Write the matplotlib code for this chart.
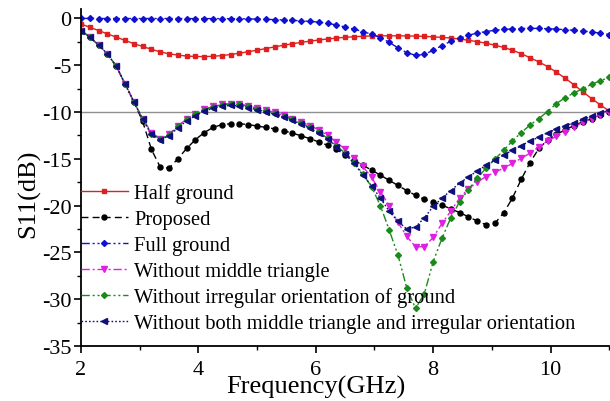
import numpy as np
import matplotlib
matplotlib.use("Agg")
import matplotlib.pyplot as plt

plt.rcParams['font.family'] = ['Liberation Serif', 'DejaVu Serif']
plt.rcParams['axes.unicode_minus'] = False

freq = [2.00, 2.15, 2.30, 2.45, 2.60, 2.75, 2.90, 3.05, 3.20, 3.35, 3.50, 3.65, 3.80, 3.95, 4.10,
        4.25, 4.40, 4.55, 4.70, 4.85, 5.00, 5.15, 5.30, 5.45, 5.60, 5.75, 5.90, 6.05, 6.20, 6.35,
        6.50, 6.65, 6.80, 6.95, 7.10, 7.25, 7.40, 7.55, 7.70, 7.85, 8.00, 8.15, 8.30, 8.45, 8.60,
        8.75, 8.90, 9.05, 9.20, 9.35, 9.50, 9.65, 9.80, 9.95, 10.10, 10.25, 10.40, 10.55, 10.70,
        10.85, 11.00]

half_ground = [-0.6, -0.95, -1.3, -1.65, -2.0, -2.35, -2.7, -3.0, -3.3, -3.58, -3.78, -3.92, -4.02, -4.07, -4.08,
               -4.05, -3.97, -3.86, -3.72, -3.56, -3.4, -3.22, -3.04, -2.87, -2.71, -2.56, -2.43, -2.31, -2.2, -2.1,
               -2.02, -1.96, -1.91, -1.88, -1.86, -1.86, -1.86, -1.87, -1.89, -1.92, -1.97, -2.03, -2.1, -2.2, -2.34,
               -2.48, -2.65, -2.86, -3.1, -3.4, -3.77, -4.2, -4.65, -5.15, -5.75, -6.4, -7.1, -7.85, -8.57,
               -9.25, -9.9]

proposed = [-1.3, -2.0, -2.85, -3.8, -5.1, -7.0, -8.9, -11.0, -14.0, -15.9, -16.0, -15.0, -13.9, -12.95, -12.2,
            -11.65, -11.35, -11.25, -11.25, -11.35, -11.5, -11.65, -11.8, -12.0, -12.25, -12.55, -12.85, -13.2, -13.55, -14.0,
            -14.55, -15.15, -15.7, -16.2, -16.75, -17.3, -17.85, -18.4, -18.9, -19.35, -19.6, -19.95, -20.35, -20.75, -21.2,
            -21.65, -22.05, -21.9, -20.8, -19.2, -17.2, -15.4, -13.9, -13.0, -12.4, -11.9, -11.45, -11.05, -10.7,
            -10.35, -10.0]

full_ground = [0.0, -0.0, -0.01, -0.01, -0.01, -0.01, -0.01, -0.01, -0.01, -0.01, -0.01, -0.01, -0.02, -0.02, -0.02,
               -0.02, -0.02, -0.03, -0.04, -0.05, -0.08, -0.1, -0.13, -0.16, -0.2, -0.26, -0.32, -0.4, -0.52, -0.7,
               -0.92, -1.15, -1.4, -1.7, -2.05, -2.55, -3.15, -3.65, -3.95, -3.85, -3.4, -2.9, -2.45, -2.1, -1.8,
               -1.57, -1.4, -1.27, -1.18, -1.12, -1.08, -1.06, -1.07, -1.1, -1.15, -1.2, -1.27, -1.35, -1.45,
               -1.58, -1.72]

no_middle = [-1.3, -2.0, -2.85, -3.8, -5.1, -7.0, -8.9, -10.7, -12.2, -12.85, -12.4, -11.5, -10.75, -10.2, -9.7,
             -9.4, -9.2, -9.1, -9.15, -9.35, -9.55, -9.8, -10.05, -10.35, -10.7, -11.05, -11.45, -11.9, -12.5, -13.2,
             -14.0, -14.9, -15.8, -17.0, -18.5, -20.0, -21.8, -23.3, -24.4, -24.4, -23.4, -21.9, -20.6, -19.2, -18.2,
             -17.5, -16.9, -16.45, -16.0, -15.5, -14.95, -14.4, -13.7, -13.1, -12.6, -12.1, -11.6, -11.1, -10.7,
             -10.3, -10.0]

no_irregular = [-1.3, -2.0, -2.85, -3.8, -5.1, -7.0, -8.9, -10.75, -12.3, -12.9, -12.45, -11.55, -10.8, -10.25, -9.75,
                -9.45, -9.25, -9.15, -9.2, -9.4, -9.65, -9.9, -10.15, -10.45, -10.8, -11.2, -11.65, -12.15, -12.8, -13.6,
                -14.4, -15.4, -16.6, -18.0, -20.0, -22.6, -25.3, -28.8, -31.0, -29.4, -26.0, -23.5, -21.3, -19.6, -18.3,
                -17.1, -16.0, -15.05, -14.1, -13.1, -12.2, -11.4, -10.7, -9.95, -9.1, -8.46, -7.96, -7.5, -7.04,
                -6.65, -6.3]

no_both = [-1.3, -2.0, -2.85, -3.8, -5.1, -7.0, -8.9, -10.8, -12.4, -12.95, -12.55, -11.7, -10.95, -10.4, -9.9,
           -9.6, -9.4, -9.3, -9.35, -9.55, -9.75, -10.0, -10.25, -10.55, -10.9, -11.3, -11.75, -12.25, -12.9, -13.7,
           -14.5, -15.5, -16.7, -17.9, -19.2, -20.6, -21.7, -22.5, -22.3, -21.3, -20.1, -19.2, -18.4, -17.6, -16.95,
           -16.3, -15.7, -15.15, -14.6, -14.1, -13.6, -13.1, -12.7, -12.2, -11.85, -11.5, -11.15, -10.8, -10.45,
           -10.1, -9.8]

labels = ["Half ground", "Proposed", "Full ground", "Without middle triangle",
          "Without irregular orientation of ground",
          "Without both middle triangle and irregular orientation"]

xticks = [2, 4, 6, 8, 10]
yticks = [0, -5, -10, -15, -20, -25, -30, -35]

fig = plt.figure(figsize=(6.10, 4.02), dpi=100)
ax = fig.add_axes([0.1328, 0.137, 0.866, 0.838])

ax.axhline(-10, color='#909090', lw=1.0, zorder=1)

x = np.array(freq)
ms = 3.6
ax.plot(x, half_ground, color='#e02020', ls='-', lw=1.0, marker='s', ms=ms - 0.3, label=labels[0])
ax.plot(x, proposed, color='black', ls=(0, (5, 3)), lw=1.0, marker='o', ms=ms, label=labels[1])
ax.plot(x, full_ground, color='#1010d0', ls=(0, (6, 2, 1.5, 2, 1.5, 2)), lw=1.0, marker='D', ms=ms - 0.6, label=labels[2])
ax.plot(x, no_middle, color='#e020e0', ls=(0, (6, 2, 1.5, 2)), lw=1.0, marker='v', ms=ms + 0.4, label=labels[3])
ax.plot(x, no_irregular, color='#1a8a1a', ls=(0, (6, 2, 1.5, 2, 1.5, 2)), lw=1.0, marker='D', ms=ms - 0.6, label=labels[4])
ax.plot(x, no_both, color='#10107a', ls=(0, (1.2, 1.5)), lw=1.0, marker='<', ms=ms + 0.4, label=labels[5])

ax.set_xlim(2, 11)
ax.set_ylim(-35, 1)
ax.set_xticks(xticks)
ax.set_yticks(yticks)
ax.set_xticks([3, 5, 7, 9, 11], minor=True)
ax.set_yticks([-2.5, -7.5, -12.5, -17.5, -22.5, -27.5, -32.5], minor=True)
ax.tick_params(axis='both', which='major', labelsize=16, direction='out', length=5, width=1.2, pad=2)
ax.tick_params(axis='x', which='major', pad=5)
ax.tick_params(axis='both', which='minor', direction='out', length=3, width=1.0)

for s in ['top', 'right']:
    ax.spines[s].set_visible(False)
for s in ['left', 'bottom']:
    ax.spines[s].set_linewidth(1.3)

ax.set_xlabel("Frequency(GHz)", fontsize=19)
ax.set_ylabel("S11(dB)", fontsize=19)
ax.xaxis.set_label_coords((316 - 81) / 528, -0.085)
ax.yaxis.set_label_coords(-0.078, (347 - 194) / 337)

leg = ax.legend(loc='upper left', bbox_to_anchor=(0.0, 0.482), frameon=False, fontsize=14.8,
                handlelength=2.28, handletextpad=0.3, labelspacing=0.31, borderpad=0.0,
                borderaxespad=0.0, markerscale=1.0, numpoints=1)

fig.savefig("out.png", dpi=100)
